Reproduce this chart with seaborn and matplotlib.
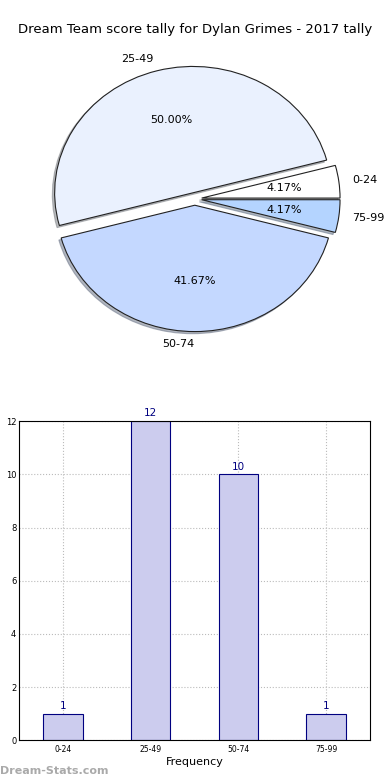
import numpy as np
import pandas as pd
import seaborn as sns
import matplotlib
matplotlib.use('Agg')
import matplotlib.pyplot as plt

# data
ranges = ['0-24', '25-49', '50-74', '75-99']
counts = [1, 12, 10, 1]
pie_colors = ['#ffffff', '#eaf1fe', '#c4d8ff', '#b4d4ff']
explode = [0.05, 0.05, 0.05, 0.05]
yticks = [0, 2, 4, 6, 8, 10, 12]

sns.set_style('white', {'text.color': 'black', 'axes.labelcolor': 'black',
                        'xtick.color': 'black', 'ytick.color': 'black'})
plt.rcParams['font.family'] = ['DejaVu Sans']

fig = plt.figure(figsize=(3.9, 7.8), dpi=100)

# pie chart
ax1 = fig.add_axes([0.056, 0.5425, 0.887, 0.405])
wedges, texts, autotexts = ax1.pie(counts, labels=ranges, colors=pie_colors, explode=explode,
                                    autopct='%1.2f%%', startangle=0,
                                    shadow={'ox': -0.012, 'oy': -0.012, 'shade': 0.5},
                                    wedgeprops={'edgecolor': '#222222', 'linewidth': 0.8},
                                    textprops={'fontsize': 8, 'color': 'black'})
ax1.set_aspect('auto')
texts[2].set_ha('right')
fig.text(0.5, 0.962, 'Dream Team score tally for Dylan Grimes - 2017 tally',
         ha='center', va='center', fontsize=9.5, color='black')

# bar chart
ax2 = fig.add_axes([0.049, 0.051, 0.9, 0.409])
df = pd.DataFrame({'range': ranges, 'count': counts})
sns.barplot(data=df, x='range', y='count', ax=ax2, width=0.45,
            color='#ccccee', edgecolor='navy', linewidth=0.8, saturation=1)
bars = ax2.patches
for b in bars:
    ax2.annotate('{}'.format(int(b.get_height())),
                 xy=(b.get_x() + b.get_width() / 2, b.get_height()),
                 xytext=(0, 2), textcoords='offset points',
                 ha='center', va='bottom', size=7.5, color='navy')

ax2.set_xlim(-0.5, 3.5)
ax2.set_ylim(0, 12)
ax2.set_yticks(yticks)
ax2.set_yticklabels(yticks, fontsize=6)
ax2.tick_params(axis='x', labelsize=5.5, length=0)
ax2.tick_params(axis='y', length=0, pad=2)
ax2.grid(True, linestyle=':', color='#bbbbbb', linewidth=0.8)
ax2.set_axisbelow(True)
for s in ax2.spines.values():
    s.set_color('black')
    s.set_linewidth(0.8)
ax2.set_xlabel('Frequency', fontsize=8, labelpad=2)
ax2.set_ylabel('Scores in Range', fontsize=7)
ax2.yaxis.set_label_coords(-0.075, 0.5)

fig.text(0.0, 0.012, 'Dream-Stats.com', ha='left', va='center', fontsize=8,
         color='#aaaaaa', fontweight='bold')

fig.savefig('out.png', dpi=100)
